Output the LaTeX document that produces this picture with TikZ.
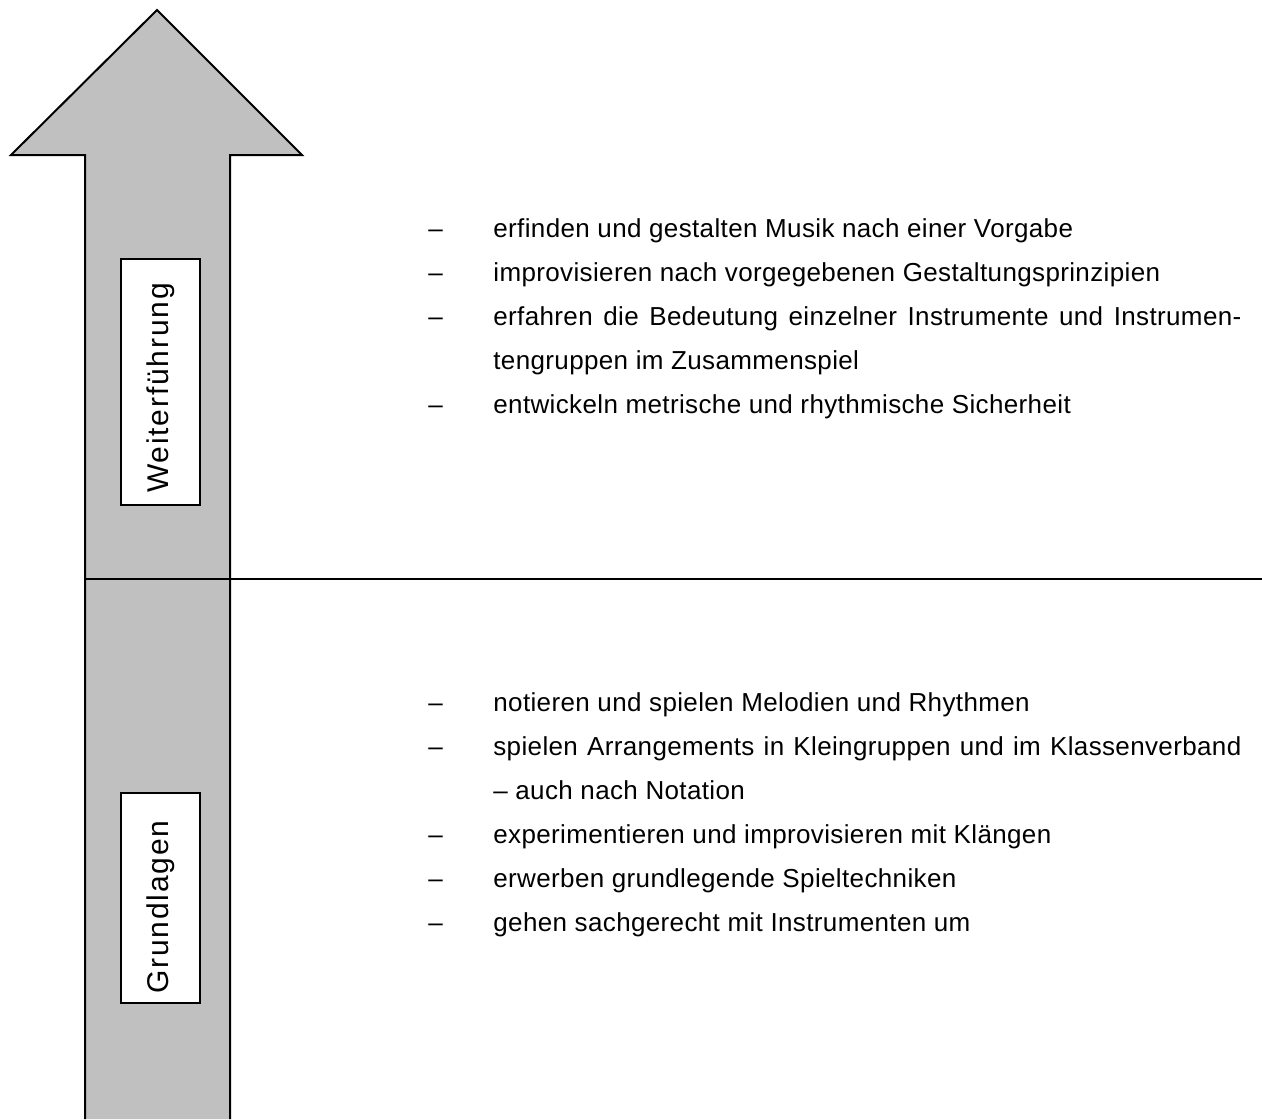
\documentclass[tikz,border=0pt]{standalone}
\usepackage{fontspec}
\setmainfont{Liberation Sans}
\usetikzlibrary{positioning}
\definecolor{shaftgray}{RGB}{192,192,192}
\newcommand{\fullline}[1]{\hbox to 374pt{#1}}
\tikzset{stage/.style={draw,line width=0.8pt,fill=white,rotate=90,inner sep=0pt,minimum height=39.5pt,font=\fontsize{15}{18}\selectfont\addfontfeature{LetterSpace=6}}}
\tikzset{itemtext/.style={anchor=base west,inner sep=0pt,font=\fontsize{13}{15}\selectfont\addfontfeature{LetterSpace=1.4}}}
\tikzset{itemdash/.style={itemtext}}
\tikzset{bigarrow/.style={draw,line width=1pt,fill=shaftgray,line join=miter}}

\begin{document}
\begin{tikzpicture}[x=0.5pt,y=-0.5pt]
    \useasboundingbox (0,0) rectangle (1262,1119);

    % arrow
    \path[bigarrow] (85,1119) -- (85,155) -- (11,155) -- (157,10) -- (302,155) -- (230,155) -- (230,1119);

    % separator
    \coordinate (sepl) at (85,579);
    \coordinate (sepr) at (1262,579);
    \draw[line width=0.75pt] (sepl) -- (sepr);

    \node[stage,minimum width=123pt] (weiter) at (160.5,382) {Weiterführung\hspace*{6pt}};
    \node[stage,minimum width=105pt] (grund) at (160.5,898) {Grundlagen\hspace*{9pt}};

    % upper list
    \node[itemtext] (w1) at (493,237) {erfinden und gestalten Musik nach einer Vorgabe};
    \node[itemtext,below=22pt of w1.base west,anchor=base west] (w2) {improvisieren nach vorgegebenen Gestaltungsprinzipien};
    \node[itemtext,below=22pt of w2.base west,anchor=base west] (w3) {\fullline{erfahren die Bedeutung einzelner Instrumente und Instrumen-}};
    \node[itemtext,below=22pt of w3.base west,anchor=base west] (w3b) {tengruppen im Zusammenspiel};
    \node[itemtext,below=22pt of w3b.base west,anchor=base west] (w4) {entwickeln metrische und rhythmische Sicherheit};

    \node[itemdash,left=32.5pt of w1.base west,anchor=base west] (dw1) {--};
    \node[itemdash,left=32.5pt of w2.base west,anchor=base west] (dw2) {--};
    \node[itemdash,left=32.5pt of w3.base west,anchor=base west] (dw3) {--};
    \node[itemdash,left=32.5pt of w4.base west,anchor=base west] (dw4) {--};

    % lower list
    \node[itemtext] (g1) at (493,711) {notieren und spielen Melodien und Rhythmen};
    \node[itemtext,below=22pt of g1.base west,anchor=base west] (g2) {\fullline{spielen Arrangements in Kleingruppen und im Klassenverband}};
    \node[itemtext,below=22pt of g2.base west,anchor=base west] (g2b) {-- auch nach Notation};
    \node[itemtext,below=22pt of g2b.base west,anchor=base west] (g3) {experimentieren und improvisieren mit Klängen};
    \node[itemtext,below=22pt of g3.base west,anchor=base west] (g4) {erwerben grundlegende Spieltechniken};
    \node[itemtext,below=22pt of g4.base west,anchor=base west] (g5) {gehen sachgerecht mit Instrumenten um};

    \node[itemdash,left=32.5pt of g1.base west,anchor=base west] (dg1) {--};
    \node[itemdash,left=32.5pt of g2.base west,anchor=base west] (dg2) {--};
    \node[itemdash,left=32.5pt of g3.base west,anchor=base west] (dg3) {--};
    \node[itemdash,left=32.5pt of g4.base west,anchor=base west] (dg4) {--};
    \node[itemdash,left=32.5pt of g5.base west,anchor=base west] (dg5) {--};
\end{tikzpicture}
\end{document}
